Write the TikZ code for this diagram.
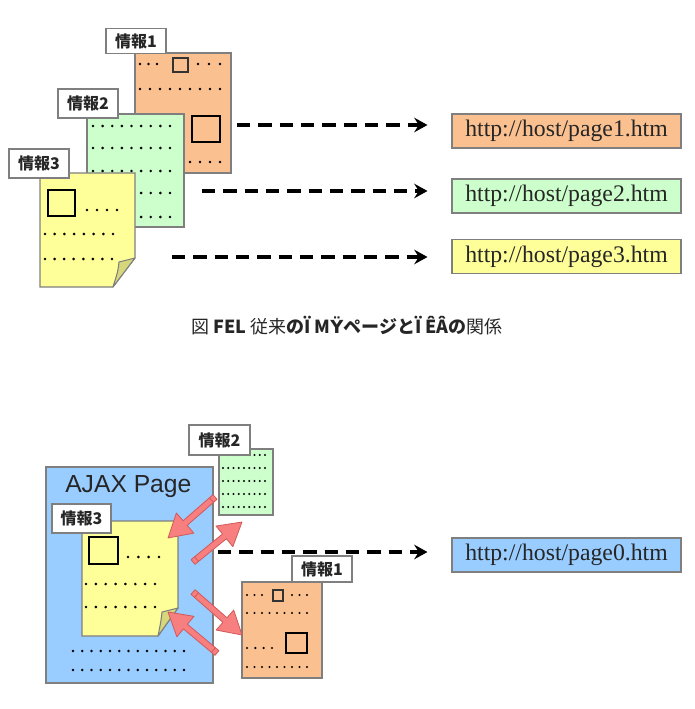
\documentclass[tikz,border=0pt]{standalone}
\usepackage{fontspec}
\setmainfont{Liberation Serif}
\newfontfamily\jp{Noto Sans CJK JP}
\newfontfamily\ajaxfont{Liberation Sans}
\newfontfamily\dejavu{DejaVu Sans}
\usetikzlibrary{arrows.meta,calc}
\definecolor{pgorange}{HTML}{FAC090}
\definecolor{pggreen}{HTML}{CCFFCC}
\definecolor{pgyellow}{HTML}{FFFF99}
\definecolor{pgblue}{HTML}{99CCFF}
\definecolor{edgegray}{HTML}{7F7F7F}
\definecolor{foldcol}{HTML}{D6D67A}
\definecolor{redfill}{HTML}{F77F7F}
\definecolor{redline}{HTML}{D05A5A}
\definecolor{txtdark}{HTML}{262626}
\tikzset{
 pagebox/.style={draw=edgegray, line width=0.8pt, inner sep=0pt},
 infolabel/.style={draw=edgegray, fill=white, line width=0.8pt, font=\jp\bfseries\fontsize{12}{12}\selectfont, inner sep=0pt, text=txtdark},
 urlbox/.style={draw=edgegray, line width=0.8pt, minimum width=171.75pt, minimum height=25.5pt, inner sep=0pt, font=\fontsize{17.8}{18}\selectfont, text=txtdark},
 dasharrow/.style={line width=2.3pt, dash pattern=on 10pt off 6pt, -{Stealth[length=10pt,width=11pt,inset=3.5pt]}},
 redarr/.style={fill=redfill, draw=redline, line width=0.6pt, line join=round},
 sqthin/.style={draw=black!80, line width=0.8pt},
 sqthick/.style={draw=black, line width=2.2pt},
 foldpath/.style={draw=edgegray, fill=foldcol, line width=0.8pt, line join=round},
}
\newcommand\dotrow[5]{\foreach \k in {1,...,#3}{\fill[black] ({#1+(\k-1)*(#2-#1)/(#3-1)},#4) circle (#5);}}
\newcommand\redblock[2]{%
 \path let \p1=($(#2)-(#1)$) in \pgfextra{%
   \pgfmathsetmacro\rbang{atan2(\y1,\x1)}%
   \pgfmathsetmacro\rblen{veclen(\x1,\y1)}%
   \global\let\rbangG\rbang \global\let\rblenG\rblen};
 \begin{scope}[shift={(#1)}, rotate=\rbangG]
  \draw[redarr] (0pt,-2.3pt) -- ({\rblenG pt-17pt},-2.3pt) -- ({\rblenG pt-17pt},-10pt) -- ({\rblenG pt},0pt) -- ({\rblenG pt-17pt},10pt) -- ({\rblenG pt-17pt},2.3pt) -- (0pt,2.3pt) -- cycle;
  \draw[redline, line width=0.6pt] (3.5pt,-2.3pt) -- (3.5pt,2.3pt);
 \end{scope}}
\begin{document}
\begin{tikzpicture}[x=0.75pt,y=-0.75pt]
\path[use as bounding box] (0,0) rectangle (694,709);
% ---------- top figure ----------
% page 1
\node[pagebox, fill=pgorange, minimum width=72pt, minimum height=90pt] (p1) at (183,113) {};
\dotrow{140}{157}{3}{64}{1.1pt}
\draw[sqthin] (173,58) rectangle (188,72);
\dotrow{198}{220}{3}{64}{1.1pt}
\dotrow{140}{220}{9}{89}{1.1pt}
\draw[sqthick] (192,116) rectangle (220,142);
\dotrow{140}{220}{9}{162}{1.1pt}
\node[infolabel, minimum width=45pt, minimum height=18.75pt] (l1) at (136,41) {情報1};
% page 2
\node[pagebox, fill=pggreen, minimum width=72.75pt, minimum height=84.75pt] (p2) at (135.5,170.5) {};
\foreach \yy in {126,148,171,193,217} {\dotrow{93}{170}{9}{\yy}{1.1pt}}
\node[infolabel, minimum width=45pt, minimum height=21.75pt] (l2) at (88,103.5) {情報2};
% page 3
\path[pagebox, fill=pgyellow] (40,173) -- (135,173) -- (135,258) -- (113,287) -- (40,287) -- cycle;
\coordinate (p3) at (87.5,230);
\path[foldpath] (135,258) -- (119,262) .. controls (118,271) .. (113,287) -- cycle;
\draw[sqthick] (48,190) rectangle (75,216);
\dotrow{87}{117}{4}{210}{1.1pt}
\dotrow{45}{113}{8}{234}{1.1pt}
\dotrow{45}{112}{8}{259}{1.1pt}
\node[infolabel, minimum width=45pt, minimum height=21.75pt] (l3) at (39,163.5) {情報3};
% URL boxes
\node[urlbox, fill=pgorange] (u1) at (566.5,131) {http://host/page1.htm};
\node[urlbox, fill=pggreen] (u2) at (566.5,196) {http://host/page2.htm};
\node[urlbox, fill=pgyellow] (u3) at (566.5,256.5) {http://host/page3.htm};
% dashed arrows
\coordinate (s1) at (237,125);
\coordinate (s2) at (202,191);
\coordinate (s3) at (172,257);
\draw[dasharrow] (s1) -- ($(u1.west |- s1)+(-24,0)$);
\draw[dasharrow] (s2) -- ($(u2.west |- s2)+(-24,0)$);
\draw[dasharrow] (s3) -- ($(u3.west |- s3)+(-24,0)$);
% caption
\node[font=\jp\fontsize{13.5}{14}\selectfont, text=txtdark] (cap) at (347,326) {図 \textbf{FEL} 従来\textbf{のÏ M{\dejavu Ÿ}ページとÏ ÊÂの}関係};
% ---------- bottom figure ----------
\node[pagebox, fill=pgblue, minimum width=125.25pt, minimum height=162pt] (ajax) at (129.5,575) {};
\node[font=\ajaxfont\fontsize{18.5}{18.5}\selectfont, text=txtdark, anchor=base west, inner sep=0pt] (ajaxt) at (65,492) {AJAX Page};
% yellow page inside
\path[pagebox, fill=pgyellow] (82,521) -- (178,521) -- (178,608) -- (158,636) -- (82,636) -- cycle;
\coordinate (q3) at (130,578);
\path[foldpath] (178,608) -- (162,612) .. controls (161,621) .. (158,636) -- cycle;
\draw[sqthick] (89,537) rectangle (118,564);
\dotrow{128}{159}{4}{557}{1.1pt}
\dotrow{86}{155}{8}{584}{1.1pt}
\dotrow{86}{155}{8}{607}{1.1pt}
\node[infolabel, minimum width=44.25pt, minimum height=21.75pt] (m3) at (81.5,518.5) {情報3};
\dotrow{73}{184}{13}{651}{1.1pt}
\dotrow{73}{184}{13}{670}{1.1pt}
% green small page
\node[pagebox, fill=pggreen, minimum width=40.5pt, minimum height=49.5pt] (q2) at (246,482) {};
\foreach \yy in {455,468,481,494,507} {\dotrow{223}{265}{9}{\yy}{0.85pt}}
\node[infolabel, minimum width=45.75pt, minimum height=22.5pt] (m2) at (219.5,440) {情報2};
% orange small page
\node[pagebox, fill=pgorange, minimum width=60pt, minimum height=72pt] (q1) at (282,630) {};
\dotrow{247}{262}{3}{595}{0.9pt}
\draw[sqthin] (273,590) rectangle (283,601);
\dotrow{292}{307}{3}{595}{0.9pt}
\dotrow{247}{307}{9}{613}{0.9pt}
\draw[line width=1.6pt] (286,633) rectangle (307,653);
\dotrow{247}{272}{4}{648}{0.9pt}
\dotrow{247}{307}{9}{667}{0.9pt}
\node[infolabel, minimum width=45pt, minimum height=19.5pt] (m1) at (322,569) {情報1};
% URL box and dashed arrow
\node[urlbox, fill=pgblue] (u0) at (566.5,555) {http://host/page0.htm};
\coordinate (s0) at (218,552);
\draw[dasharrow] (s0) -- ($(u0.west |- s0)+(-24,0)$);
% red block arrows
\coordinate (r1t) at (215,497); \coordinate (r1h) at (168,538);
\coordinate (r2t) at (193,562); \coordinate (r2h) at (242,522);
\coordinate (r3t) at (193,592); \coordinate (r3h) at (242,635);
\coordinate (r4t) at (217,653); \coordinate (r4h) at (168,612);
\redblock{r1t}{r1h}
\redblock{r2t}{r2h}
\redblock{r3t}{r3h}
\redblock{r4t}{r4h}
\end{tikzpicture}
\end{document}
